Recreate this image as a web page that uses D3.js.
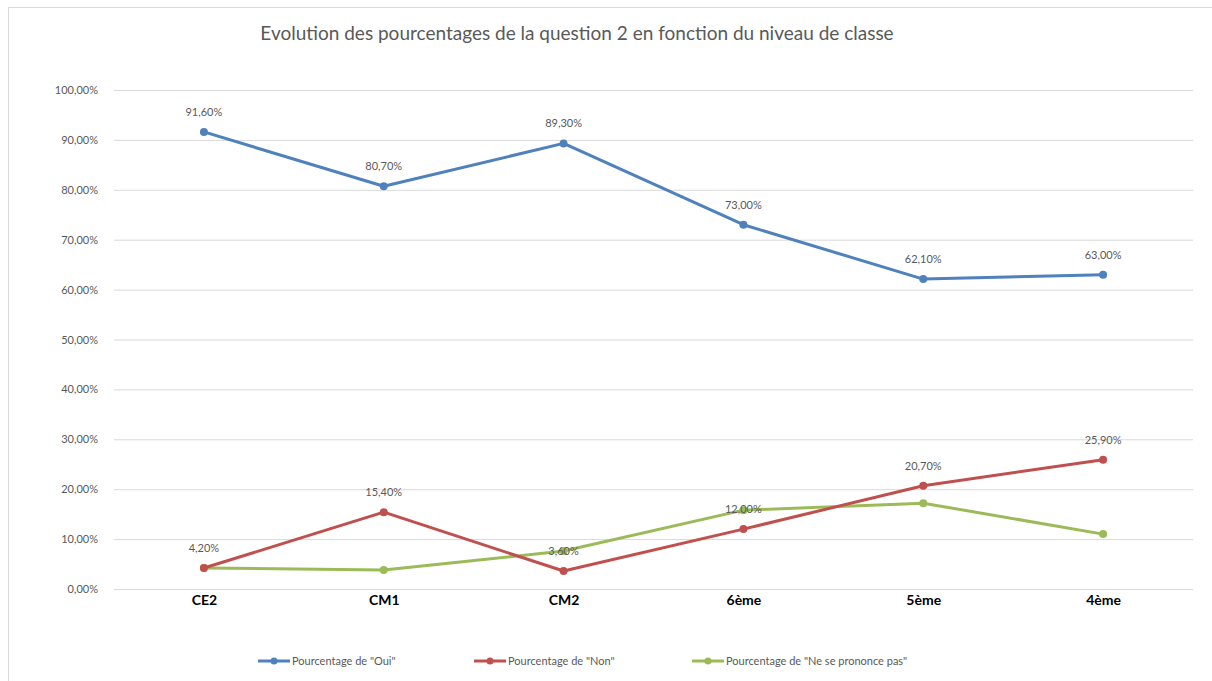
<!DOCTYPE html>
<html>
<head>
<meta charset="utf-8">
<script src="https://cdn.jsdelivr.net/npm/d3@7"></script>
<style>
  body { margin: 0; background: #fff; }
  svg text { font-family: Lato, "Open Sans", sans-serif; }
</style>
</head>
<body>
<svg id="chart" width="1212" height="681"></svg>
<script>
// data
var categories = ["CE2", "CM1", "CM2", "6ème", "5ème", "4ème"];
var oui = [91.6, 80.7, 89.3, 73.0, 62.1, 63.0];
var non = [4.2, 15.4, 3.6, 12.0, 20.7, 25.9];
var nsp = [4.2, 3.8, 7.6, 15.8, 17.2, 11.0];
var yTicks = [0, 10, 20, 30, 40, 50, 60, 70, 80, 90, 100];
var legendLabels = ['Pourcentage de "Oui"', 'Pourcentage de "Non"', 'Pourcentage de "Ne se prononce pas"'];

var series = [
  { name: legendLabels[0], values: oui, color: "#4f81bd", labels: true },
  { name: legendLabels[1], values: non, color: "#c0504d", labels: true },
  { name: legendLabels[2], values: nsp, color: "#9bbb59", labels: false }
];

var svg = d3.select("#chart");
var margin = { top: 90, left: 114, right: 1193, bottom: 589 };

var x = d3.scalePoint()
  .domain(categories)
  .range([margin.left, margin.right])
  .padding(0.5);

var y = d3.scaleLinear()
  .domain([0, 100])
  .range([margin.bottom, margin.top]);

var fmt = function (v) { return d3.format(".2f")(v).replace(".", ",") + "%"; };

// outer chart border
svg.append("rect")
  .attr("x", 8.5).attr("y", 7.5)
  .attr("width", 1210).attr("height", 680)
  .attr("fill", "none")
  .attr("stroke", "#d9d9d9");

// title
svg.append("text")
  .attr("x", 577).attr("y", 40)
  .attr("text-anchor", "middle")
  .attr("fill", "#595959")
  .style("font-size", "19px")
  .text("Evolution des pourcentages de la question 2 en fonction du niveau de classe");

// gridlines + y labels
var yAxis = svg.append("g")
  .attr("transform", "translate(" + margin.left + ",0)")
  .call(d3.axisLeft(y)
    .tickValues(yTicks)
    .tickSize(-(margin.right - margin.left))
    .tickPadding(16)
    .tickFormat(fmt));
yAxis.select(".domain").remove();
yAxis.selectAll(".tick line").attr("stroke", "#d9d9d9");
yAxis.selectAll(".tick text")
  .attr("fill", "#595959")
  .style("font-size", "11px");

// x labels
var xAxis = svg.append("g")
  .attr("transform", "translate(0," + margin.bottom + ")")
  .call(d3.axisBottom(x).tickSize(0).tickPadding(6));
xAxis.select(".domain").remove();
xAxis.selectAll(".tick text")
  .attr("fill", "#000")
  .style("font-size", "14px")
  .style("font-weight", "bold");

var line = d3.line()
  .x(function (d, i) { return x(categories[i]); })
  .y(function (d) { return y(d); });

// draw green first so blue/red sit on top
[series[2], series[1], series[0]].forEach(function (s) {
  var g = svg.append("g");
  g.append("path")
    .datum(s.values)
    .attr("fill", "none")
    .attr("stroke", s.color)
    .attr("stroke-width", 3)
    .attr("stroke-linejoin", "round")
    .attr("d", line);
  g.selectAll("circle")
    .data(s.values)
    .enter().append("circle")
    .attr("cx", function (d, i) { return x(categories[i]); })
    .attr("cy", function (d) { return y(d); })
    .attr("r", 4)
    .attr("fill", s.color);
});

// data labels
series.filter(function (s) { return s.labels; }).forEach(function (s) {
  svg.append("g").selectAll("text")
    .data(s.values)
    .enter().append("text")
    .attr("x", function (d, i) { return x(categories[i]); })
    .attr("y", function (d) { return y(d) - 16; })
    .attr("text-anchor", "middle")
    .attr("fill", "#595959")
    .style("font-size", "11px")
    .text(fmt);
});

// legend
var legendX = [258, 474, 692];
var legend = svg.append("g");
series.forEach(function (s, i) {
  var lg = legend.append("g").attr("transform", "translate(" + legendX[i] + ",661)");
  lg.append("line").attr("x1", 0).attr("x2", 32).attr("y1", 0).attr("y2", 0)
    .attr("stroke", s.color).attr("stroke-width", 3);
  lg.append("circle").attr("cx", 16).attr("cy", 0).attr("r", 3.5).attr("fill", s.color);
  lg.append("text").attr("x", 34).attr("y", 4)
    .attr("fill", "#595959")
    .style("font-size", "11px")
    .text(s.name);
});
</script>
</body>
</html>
